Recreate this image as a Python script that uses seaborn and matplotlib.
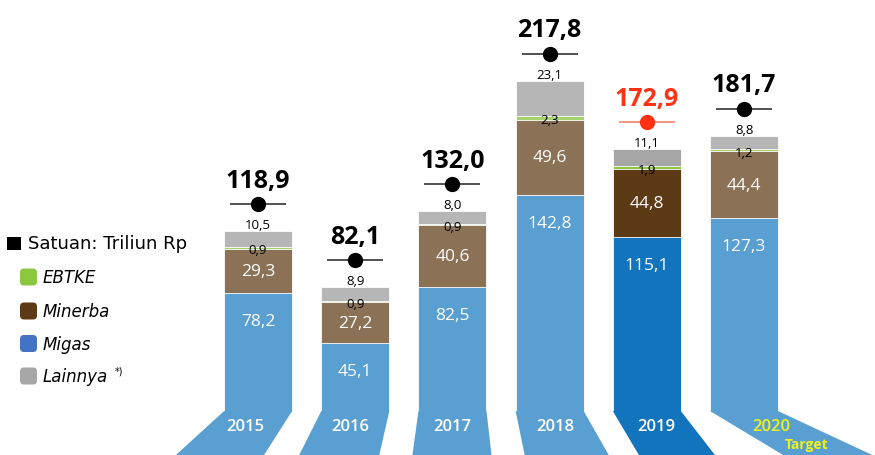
import matplotlib
matplotlib.use("Agg")
import matplotlib.pyplot as plt
import matplotlib.transforms as mtrans
from matplotlib.patches import FancyBboxPatch, Polygon, Rectangle
import seaborn as sns
import pandas as pd

# ---------------- data ----------------
years = ["2015", "2016", "2017", "2018", "2019", "2020"]
migas = [78.2, 45.1, 82.5, 142.8, 115.1, 127.3]
minerba = [29.3, 27.2, 40.6, 49.6, 44.8, 44.4]
ebtke = [0.9, 0.9, 0.9, 2.3, 1.9, 1.2]
lainnya = [10.5, 8.9, 8.0, 23.1, 11.1, 8.8]
totals = [118.9, 82.1, 132.0, 217.8, 172.9, 181.7]
highlight_year = "2019"
target_year = "2020"
legend_labels = ["EBTKE", "Minerba", "Migas", "Lainnya"]
unit_label = "Satuan: Triliun Rp"

# ---------------- style ----------------
plt.rcParams["font.family"] = ["Open Sans", "DejaVu Sans"]
W, H = 875, 456
C_BLUE, C_BLUE_HL = "#5a9fd1", "#1274bd"
C_BROWN, C_BROWN_HL = "#8b7156", "#5c3a16"
C_GREEN, C_GREEN_HL = "#a4d36e", "#8dc63f"
C_GRAY, C_GRAY_HL = "#b6b6b6", "#a6a6a6"
C_RED, C_RED_LINE = "#ff3214", "#f2836c"
C_YELLOW = "#eef21c"
LEG_COLORS = ["#8dc63f", "#5c3a16", "#4472c4", "#a6a6a6"]

def fmt(v):
    return f"{v:.1f}".replace(".", ",")

df = pd.DataFrame({"year": years, "migas": migas, "minerba": minerba,
                   "ebtke": ebtke, "lainnya": lainnya})
df["c_minerba"] = df["migas"] + df["minerba"]
df["c_ebtke"] = df["c_minerba"] + df["ebtke"]
df["c_total"] = df["c_ebtke"] + df["lainnya"]

def pal(base, hl):
    return {y: (hl if y == highlight_year else base) for y in years}

fig = plt.figure(figsize=(W / 100, H / 100), dpi=100)
ax = fig.add_axes([0, 0, 1, 1])

BAR_W = 0.70
layers = [("c_total", C_GRAY, C_GRAY_HL), ("c_ebtke", C_GREEN, C_GREEN_HL),
          ("c_minerba", C_BROWN, C_BROWN_HL), ("migas", C_BLUE, C_BLUE_HL)]
for col, base, hl in layers:
    sns.barplot(data=df, x="year", y=col, hue="year", palette=pal(base, hl),
                width=BAR_W, edgecolor="white", linewidth=0.6, saturation=1,
                errorbar=None, legend=False, ax=ax)

XLIM = (-2.655, 6.347)
YLIM = (-28.29, 271.7)
ax.set_xlim(*XLIM)
ax.set_ylim(*YLIM)
ax.axis("off")
px_x = (XLIM[1] - XLIM[0]) / W
px_y = (YLIM[1] - YLIM[0]) / H

# bar positions from the last (blue) layer
blue_patches = sorted(ax.patches[-len(years):], key=lambda p: p.get_x())

# decorative "feet" below each bar (pixel offsets of bottom corners)
foot_off = [(-48, -28), (-22, -10), (-6, 5), (9, 25), (26, 34), (73, 94)]
foot_h_px = 43
ybot = YLIM[0] - 2
for i, p in enumerate(blue_patches):
    xl, xr = p.get_x(), p.get_x() + p.get_width()
    oL, oR = foot_off[i]
    k = (0 - ybot) / (foot_h_px * px_y)
    col = C_BLUE_HL if years[i] == highlight_year else C_BLUE
    poly = Polygon([(xl, 0.6), (xr, 0.6),
                    (xr + oR * px_x * k, ybot), (xl + oL * px_x * k, ybot)],
                   closed=True, facecolor=col, edgecolor="none", zorder=3)
    ax.add_patch(poly)

    def foot_center(dy_px):
        f = dy_px / foot_h_px
        return ((xl + oL * px_x * f) + (xr + oR * px_x * f)) / 2
    is_t = years[i] == target_year
    ax.text(foot_center(14), -14 * px_y, years[i], ha="center", va="center",
            fontsize=12, fontweight="semibold",
            color=C_YELLOW if is_t else "white", zorder=4)
    if is_t:
        ax.text(foot_center(32), -32 * px_y, "Target", ha="center",
                va="center", fontsize=10, fontweight="bold", color=C_YELLOW,
                zorder=4)

# labels
for i, y in enumerate(years):
    xc = blue_patches[i].get_x() + blue_patches[i].get_width() / 2
    hl = y == highlight_year
    top = df["c_total"][i]
    ax.annotate(fmt(migas[i]), (xc, migas[i]), xytext=(0, -28),
                textcoords="offset pixels", ha="center", va="center",
                fontsize=12.5, color="white", zorder=5)
    ax.text(xc, migas[i] + minerba[i] / 2, fmt(minerba[i]), ha="center",
            va="center", fontsize=12.5, color="white", zorder=5)
    ax.annotate(fmt(ebtke[i]), (xc, df["c_minerba"][i] + ebtke[i] / 2),
                xytext=(0, -2), textcoords="offset pixels", ha="center",
                va="center", fontsize=9.5, color="black", zorder=5)
    ax.annotate(fmt(lainnya[i]), (xc, top), xytext=(0, 0),
                textcoords="offset pixels", ha="center", va="bottom",
                fontsize=9.5, color="black", zorder=5)
    yl = top + 27 * px_y
    ax.plot([xc - 28 * px_x, xc + 28 * px_x], [yl, yl],
            color=C_RED_LINE if hl else "#333333", lw=1.2, zorder=5,
            solid_capstyle="butt")
    ax.plot([xc], [yl], marker="o", markersize=10,
            color=C_RED if hl else "black", zorder=6)
    ax.text(xc, totals[i] + 51 * px_y, fmt(totals[i]), ha="center",
            va="center", fontsize=18, fontweight="bold",
            color=C_RED if hl else "black", zorder=6)

# legend (pixel coordinates, y measured from top)
ident = mtrans.IdentityTransform()
def fy(y):
    return H - y

fig.patches.append(Rectangle((7, fy(251)), 14, 13, transform=ident,
                             facecolor="black", edgecolor="none"))
fig.text(28 / W, 1 - 244 / H, unit_label, fontsize=13, va="center",
         ha="left", family="DejaVu Sans", color="black")
leg_y = [278, 312, 344.5, 377]
for lab, c, yy in zip(legend_labels, LEG_COLORS, leg_y):
    fig.patches.append(FancyBboxPatch((20, fy(yy) - 8.5), 17, 17,
                                      boxstyle="round,pad=0,rounding_size=4",
                                      transform=ident, facecolor=c,
                                      edgecolor="none"))
    fig.text(43 / W, 1 - yy / H, lab, fontsize=12, style="italic",
             va="center", ha="left", family="DejaVu Sans", color="black")
fig.text(115 / W, 1 - 371 / H, "*)", fontsize=7, va="center", ha="left",
         family="DejaVu Sans", color="black")

fig.savefig("out.png", dpi=100)
